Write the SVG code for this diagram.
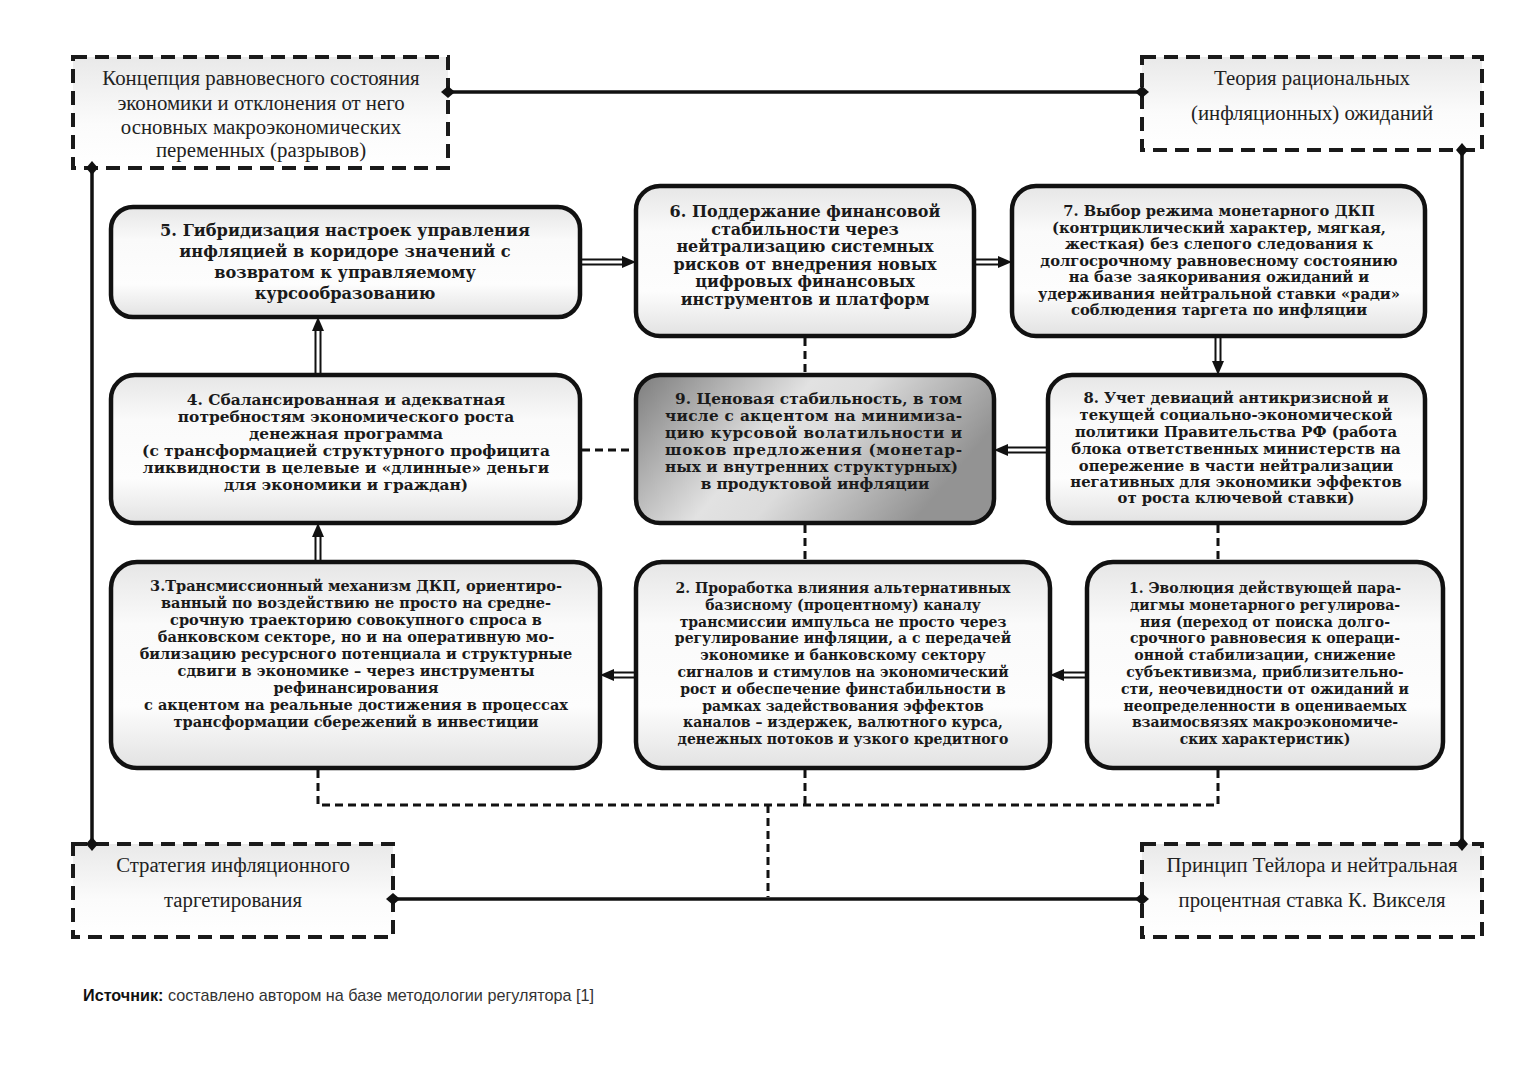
<svg xmlns="http://www.w3.org/2000/svg" width="1526" height="1066" viewBox="0 0 1526 1066">
<defs>
<linearGradient id="gBox" x1="0" y1="0" x2="0" y2="1">
<stop offset="0" stop-color="#e6e6e6"/><stop offset="0.3" stop-color="#fafafa"/><stop offset="0.7" stop-color="#fdfdfd"/><stop offset="1" stop-color="#e2e2e2"/>
</linearGradient>
<linearGradient id="gDash" x1="0" y1="0" x2="0" y2="1">
<stop offset="0" stop-color="#e9e9e9"/><stop offset="0.6" stop-color="#fbfbfb"/><stop offset="1" stop-color="#ffffff"/>
</linearGradient>
<linearGradient id="gNine" x1="0" y1="0" x2="1" y2="0.35">
<stop offset="0" stop-color="#7c7c7c"/><stop offset="0.45" stop-color="#e2e2e2"/><stop offset="0.6" stop-color="#dcdcdc"/><stop offset="1" stop-color="#939393"/>
</linearGradient>
<marker id="dia" viewBox="-8 -8 16 16" refX="0" refY="0" markerWidth="16" markerHeight="16" markerUnits="userSpaceOnUse" orient="auto">
<path d="M-7,0 L0,-6 L7,0 L0,6 Z" fill="#111"/>
</marker>
<style>
.dbox{fill:url(#gDash);stroke:#1a1a1a;stroke-width:4;stroke-dasharray:14 8}
.rbox{fill:url(#gBox);stroke:#111;stroke-width:4.5}
.nine{fill:url(#gNine);stroke:#111;stroke-width:4.5}
.dt{font-family:"Liberation Serif","DejaVu Serif",serif;font-size:20.8px;fill:#222;text-anchor:middle}
.bt{font-family:"DejaVu Serif","Liberation Serif",serif;font-weight:bold;fill:#1a1a1a;text-anchor:middle}
.solid{fill:none;stroke:#111;stroke-width:3.5;marker-start:url(#dia);marker-end:url(#dia)}
.dash{fill:none;stroke:#111;stroke-width:3;stroke-dasharray:8 5}
.dl{fill:none;stroke:#111;stroke-width:2}
.head{fill:#111}
</style>
</defs>

<g id="n-concept">
<rect class="dbox" x="73" y="57" width="375" height="111"/>
<text class="dt" x="261" y="85">Концепция равновесного состояния</text>
<text class="dt" x="261" y="110">экономики и отклонения от него</text>
<text class="dt" x="261" y="134">основных макроэкономических</text>
<text class="dt" x="261" y="157">переменных (разрывов)</text>
</g>

<g id="n-rational">
<rect class="dbox" x="1142" y="57" width="340" height="93"/>
<text class="dt" x="1312" y="85">Теория рациональных</text>
<text class="dt" x="1312" y="120">(инфляционных) ожиданий</text>
</g>

<g id="n-strategy">
<rect class="dbox" x="73" y="844" width="320" height="93"/>
<text class="dt" x="233" y="872">Стратегия инфляционного</text>
<text class="dt" x="233" y="907">таргетирования</text>
</g>

<g id="n-taylor">
<rect class="dbox" x="1142" y="844" width="340" height="93"/>
<text class="dt" x="1312" y="872">Принцип Тейлора и нейтральная</text>
<text class="dt" x="1312" y="907">процентная ставка К. Викселя</text>
</g>

<g id="n5">
<rect class="rbox" x="111" y="207" width="469" height="110" rx="22"/>
<text class="bt" font-size="16.2" x="345"><tspan x="345" y="236">5. Гибридизация настроек управления</tspan><tspan x="345" y="257">инфляцией в коридоре значений с</tspan><tspan x="345" y="278">возвратом к управляемому</tspan><tspan x="345" y="299">курсообразованию</tspan></text>
</g>

<g id="n6">
<rect class="rbox" x="636" y="186" width="338" height="150" rx="24"/>
<text class="bt" font-size="16" x="805"><tspan x="805" y="217">6. Поддержание финансовой</tspan><tspan x="805" y="234.5">стабильности через</tspan><tspan x="805" y="252">нейтрализацию системных</tspan><tspan x="805" y="269.5">рисков от внедрения новых</tspan><tspan x="805" y="287">цифровых финансовых</tspan><tspan x="805" y="304.5">инструментов и платформ</tspan></text>
</g>

<g id="n7">
<rect class="rbox" x="1012" y="186" width="413" height="150" rx="24"/>
<text class="bt" font-size="14.7" x="1219"><tspan x="1219" y="216">7. Выбор режима монетарного ДКП</tspan><tspan x="1219" y="232.5">(контрциклический характер, мягкая,</tspan><tspan x="1219" y="249">жесткая) без слепого следования к</tspan><tspan x="1219" y="265.5">долгосрочному равновесному состоянию</tspan><tspan x="1219" y="282">на базе заякоривания ожиданий и</tspan><tspan x="1219" y="298.5">удерживания нейтральной ставки «ради»</tspan><tspan x="1219" y="315">соблюдения таргета по инфляции</tspan></text>
</g>

<g id="n4">
<rect class="rbox" x="111" y="375" width="469" height="148" rx="24"/>
<text class="bt" font-size="15.4" x="346"><tspan x="346" y="405">4. Сбалансированная и адекватная</tspan><tspan x="346" y="422">потребностям экономического роста</tspan><tspan x="346" y="439">денежная программа</tspan><tspan x="346" y="456">(с трансформацией структурного профицита</tspan><tspan x="346" y="473">ликвидности в целевые и «длинные» деньги</tspan><tspan x="346" y="490">для экономики и граждан)</tspan></text>
</g>

<g id="n9">
<rect class="nine" x="636" y="375" width="358" height="148" rx="24"/>
<text class="bt" font-size="15.3" style="text-anchor:start"><tspan x="675" y="404" textLength="287" lengthAdjust="spacing">9. Ценовая стабильность, в том</tspan></text>
<text class="bt" font-size="15.3" style="text-anchor:start"><tspan x="665" y="421" textLength="297" lengthAdjust="spacing">числе с акцентом на минимиза-</tspan></text>
<text class="bt" font-size="15.3" style="text-anchor:start"><tspan x="665" y="438" textLength="297" lengthAdjust="spacing">цию курсовой волатильности и</tspan></text>
<text class="bt" font-size="15.3" style="text-anchor:start"><tspan x="665" y="455" textLength="297" lengthAdjust="spacing">шоков предложения (монетар-</tspan></text>
<text class="bt" font-size="15.3" style="text-anchor:start"><tspan x="665" y="472" textLength="293" lengthAdjust="spacing">ных и внутренних структурных)</tspan></text>
<text class="bt" font-size="15.3" x="815" y="489">в продуктовой инфляции</text>
</g>

<g id="n8">
<rect class="rbox" x="1048" y="375" width="377" height="148" rx="24"/>
<text class="bt" font-size="14.8" x="1236"><tspan x="1236" y="403">8. Учет девиаций антикризисной и</tspan><tspan x="1236" y="420">текущей социально-экономической</tspan><tspan x="1236" y="437">политики Правительства РФ (работа</tspan><tspan x="1236" y="454">блока ответственных министерств на</tspan><tspan x="1236" y="471">опережение в части нейтрализации</tspan><tspan x="1236" y="487">негативных для экономики эффектов</tspan><tspan x="1236" y="503">от роста ключевой ставки)</tspan></text>
</g>

<g id="n3">
<rect class="rbox" x="111" y="562" width="489" height="206" rx="26"/>
<text class="bt" font-size="14.5" x="356"><tspan x="356" y="591">3.Трансмиссионный механизм ДКП, ориентиро-</tspan><tspan x="356" y="608">ванный по воздействию не просто на средне-</tspan><tspan x="356" y="625">срочную траекторию совокупного спроса в</tspan><tspan x="356" y="642">банковском секторе, но и на оперативную мо-</tspan><tspan x="356" y="659">билизацию ресурсного потенциала и структурные</tspan><tspan x="356" y="676">сдвиги в экономике – через инструменты</tspan><tspan x="356" y="693">рефинансирования</tspan><tspan x="356" y="710">с акцентом на реальные достижения в процессах</tspan><tspan x="356" y="727">трансформации сбережений в инвестиции</tspan></text>
</g>

<g id="n2">
<rect class="rbox" x="636" y="562" width="414" height="206" rx="26"/>
<text class="bt" font-size="14" x="843"><tspan x="843" y="593">2. Проработка влияния альтернативных</tspan><tspan x="843" y="609.8">базисному (процентному) каналу</tspan><tspan x="843" y="626.6">трансмиссии импульса не просто через</tspan><tspan x="843" y="643.4">регулирование инфляции, а с передачей</tspan><tspan x="843" y="660.2">экономике и банковскому сектору</tspan><tspan x="843" y="677">сигналов и стимулов на экономический</tspan><tspan x="843" y="693.8">рост и обеспечение финстабильности в</tspan><tspan x="843" y="710.6">рамках задействования эффектов</tspan><tspan x="843" y="727.4">каналов – издержек, валютного курса,</tspan><tspan x="843" y="744.2">денежных потоков и узкого кредитного</tspan></text>
</g>

<g id="n1">
<rect class="rbox" x="1087" y="562" width="356" height="206" rx="26"/>
<text class="bt" font-size="14" x="1265"><tspan x="1265" y="593">1. Эволюция действующей пара-</tspan><tspan x="1265" y="609.8">дигмы монетарного регулирова-</tspan><tspan x="1265" y="626.6">ния (переход от поиска долго-</tspan><tspan x="1265" y="643.4">срочного равновесия к операци-</tspan><tspan x="1265" y="660.2">онной стабилизации, снижение</tspan><tspan x="1265" y="677">субъективизма, приблизительно-</tspan><tspan x="1265" y="693.8">сти, неочевидности от ожиданий и</tspan><tspan x="1265" y="710.6">неопределенности в оцениваемых</tspan><tspan x="1265" y="727.4">взаимосвязях макроэкономиче-</tspan><tspan x="1265" y="744.2">ских характеристик)</tspan></text>
</g>

<g id="connectors">
<path class="solid" d="M448,92 H1142"/>
<path class="solid" d="M92,168 V844"/>
<path class="solid" d="M1462,150 V844"/>
<path class="solid" d="M1142,899 H393"/>
<path class="dash" d="M805,338 V373"/>
<path class="dash" d="M582,450 H634"/>
<path class="dash" d="M805,525 V560"/>
<path class="dash" d="M1218,525 V560"/>
<path class="dash" d="M318,770 V805 H1218 V770"/>
<path class="dash" d="M805,770 V805"/>
<path class="dash" d="M768,805 V897"/>
<!-- 5 -> 6 -->
<path class="dl" d="M582,259.5 H624 M582,264.5 H624"/>
<polygon class="head" points="636,262 622,256 622,268"/>
<!-- 6 -> 7 -->
<path class="dl" d="M976,259.5 H1000 M976,264.5 H1000"/>
<polygon class="head" points="1012,262 998,256 998,268"/>
<!-- 7 -> 8 -->
<path class="dl" d="M1215.5,338 V363 M1220.5,338 V363"/>
<polygon class="head" points="1218,375 1212,361 1224,361"/>
<!-- 8 -> 9 -->
<path class="dl" d="M1046,447.5 H1006 M1046,452.5 H1006"/>
<polygon class="head" points="994,450 1008,444 1008,456"/>
<!-- 1 -> 2 -->
<path class="dl" d="M1085,672.5 H1062 M1085,677.5 H1062"/>
<polygon class="head" points="1050,675 1064,669 1064,681"/>
<!-- 2 -> 3 -->
<path class="dl" d="M634,672.5 H612 M634,677.5 H612"/>
<polygon class="head" points="600,675 614,669 614,681"/>
<!-- 3 -> 4 -->
<path class="dl" d="M315.5,560 V535 M320.5,560 V535"/>
<polygon class="head" points="318,523 312,537 324,537"/>
<!-- 4 -> 5 -->
<path class="dl" d="M315.5,373 V329 M320.5,373 V329"/>
<polygon class="head" points="318,317 312,331 324,331"/>
</g>

<g id="source">
<text x="83" y="1001" font-family="Liberation Sans, Arial, sans-serif" font-size="16.2" fill="#333"><tspan font-weight="bold" fill="#111">Источник:</tspan> составлено автором на базе методологии регулятора [1]</text>
</g>
</svg>
